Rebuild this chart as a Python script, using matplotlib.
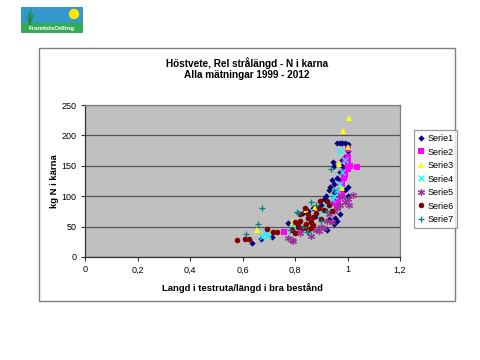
import numpy as np
import matplotlib
matplotlib.use("Agg")
import matplotlib.pyplot as plt
from matplotlib.patches import Rectangle, Circle

plt.rcParams['font.family'] = ['Liberation Sans', 'DejaVu Sans']

# data
s1_x = [0.636, 0.67, 0.712, 0.774, 0.83, 0.85, 0.87, 0.88, 0.90, 0.91, 0.918, 0.93, 0.93, 0.933,
        0.94, 0.95, 0.95, 0.96, 0.96, 0.97, 0.97, 0.98, 0.98, 0.99, 0.99, 1.0, 1.0, 0.96, 0.97,
        0.98, 0.99, 1.0, 0.945, 0.95, 0.93, 0.952, 0.96, 0.97, 0.98, 0.95, 0.99, 0.92, 1.0]
s1_y = [23, 30, 33, 56, 72, 75, 80, 68, 85, 95, 100, 88, 110, 115, 127, 120, 105, 130, 95, 140,
        125, 150, 160, 165, 145, 115, 175, 187, 187, 188, 188, 186, 156, 150, 62, 64, 60, 70, 128,
        55, 110, 45, 100]

s2_x = [0.758, 0.819, 0.964, 0.97, 0.985, 0.99, 1.0, 1.01, 1.036, 1.0, 1.0, 0.98, 0.99, 0.975,
        0.96, 0.99, 1.0, 0.95, 0.98]
s2_y = [41, 46, 94, 115, 130, 140, 145, 150, 148, 178, 165, 120, 135, 105, 85, 160, 155, 88, 100]

s3_x = [1.006, 0.983, 0.967, 0.655, 0.794, 0.876, 0.971, 1.0, 0.98, 0.84]
s3_y = [228, 207, 153, 44, 57, 82, 118, 181, 113, 78]

s4_x = [0.674, 0.697, 0.686, 0.79, 0.80, 0.86, 0.88, 0.90, 0.92, 0.94, 0.96, 0.97, 0.98, 0.97,
        0.99, 0.95]
s4_y = [33, 36, 40, 42, 50, 60, 70, 75, 85, 95, 110, 120, 140, 175, 160, 100]

s5_x = [0.774, 0.789, 0.793, 0.82, 0.88, 0.90, 0.92, 0.95, 0.96, 0.97, 0.99, 1.0, 1.02, 0.93,
        0.89, 0.86, 0.94, 0.98, 1.005, 0.91]
s5_y = [31, 28, 26, 40, 45, 50, 60, 75, 80, 85, 90, 95, 102, 70, 42, 35, 58, 98, 85, 48]

s6_x = [0.578, 0.61, 0.625, 0.693, 0.716, 0.731, 0.79, 0.80, 0.81, 0.82, 0.83, 0.838, 0.849,
        0.85, 0.86, 0.87, 0.88, 0.89, 0.895, 0.91, 0.92, 0.93, 0.85, 0.80, 0.82, 0.87, 0.90,
        0.94, 0.84, 0.86, 0.81]
s6_y = [28, 30, 30, 46, 41, 41, 44, 58, 55, 60, 48, 80, 64, 70, 58, 65, 72, 80, 92, 78, 92, 85,
        45, 40, 70, 52, 62, 75, 55, 48, 50]

s7_x = [0.674, 0.659, 0.613, 0.846, 0.807, 0.811, 0.849, 0.937, 0.88, 0.90, 0.92, 0.95, 0.83,
        0.86, 0.78]
s7_y = [80, 54, 38, 41, 74, 72, 41, 145, 85, 60, 75, 110, 50, 90, 45]

series = [
    ("Serie1", s1_x, s1_y, "D", "#000080", 3.2),
    ("Serie2", s2_x, s2_y, "s", "#FF00FF", 4.3),
    ("Serie3", s3_x, s3_y, "^", "#FFFF00", 4.2),
    ("Serie4", s4_x, s4_y, "x", "#00FFFF", 4.0),
    ("Serie5", s5_x, s5_y, (6, 2, 0), "#993399", 5.0),
    ("Serie6", s6_x, s6_y, "o", "#800000", 4.0),
    ("Serie7", s7_x, s7_y, "+", "#008080", 5.0),
]

xticks = [0, 0.2, 0.4, 0.6, 0.8, 1, 1.2]
xtick_labels = ["0", "0,2", "0,4", "0,6", "0,8", "1", "1,2"]
yticks = [0, 50, 100, 150, 200, 250]

fig = plt.figure(figsize=(4.8, 3.6), dpi=100)

# chart area border
fig.patches.append(Rectangle((39 / 480, 59 / 360), 416 / 480, 253 / 360, transform=fig.transFigure,
                             fill=False, edgecolor="#808080", lw=1.0))

ax = fig.add_axes([85 / 480, 103 / 360, 315 / 480, 152 / 360])
ax.set_facecolor("#C0C0C0")
for name, xs, ys, mk, col, ms in series:
    if mk in ("x", "+") or isinstance(mk, tuple):
        ax.plot(xs, ys, linestyle="none", marker=mk, color=col, markersize=ms,
                markeredgewidth=0.9, label=name)
    else:
        ax.plot(xs, ys, linestyle="none", marker=mk, color=col, markersize=ms,
                markeredgewidth=0, label=name)

ax.set_xlim(0, 1.2)
ax.set_ylim(0, 250)
ax.set_xticks(xticks)
ax.set_xticklabels(xtick_labels)
ax.set_yticks(yticks)
ax.yaxis.grid(True, color="#555555", lw=0.9)
ax.set_axisbelow(True)
for s in ax.spines.values():
    s.set_color("#808080")
    s.set_linewidth(0.9)
ax.spines["left"].set_color("#333333")
ax.spines["bottom"].set_color("#333333")
ax.tick_params(direction="out", length=3, width=0.8, color="#333333", labelsize=6.5, pad=3)

ax.set_xlabel("Langd i testruta/längd i bra bestånd", fontsize=6.8, fontweight="bold", labelpad=6)
ax.set_ylabel("kg N i kärna", fontsize=6.8, fontweight="bold", labelpad=2)

fig.text(247 / 480, 1 - 63 / 360, "Höstvete, Rel strålängd - N i karna", ha="center", va="center",
         fontsize=7.2, fontweight="bold")
fig.text(247 / 480, 1 - 75 / 360, "Alla mätningar 1999 - 2012", ha="center", va="center",
         fontsize=7.2, fontweight="bold")

leg = fig.legend(loc="upper left", bbox_to_anchor=(414 / 480, 1 - 130 / 360), fontsize=6.5,
                 frameon=True, fancybox=False, borderpad=0.45, labelspacing=0.5,
                 handlelength=0.6, handletextpad=0.4, borderaxespad=0)
leg.get_frame().set_edgecolor("#808080")
leg.get_frame().set_linewidth(0.9)

# logo
lax = fig.add_axes([21 / 480, 1 - 33 / 360, 62 / 480, 26 / 360])
lax.set_xlim(0, 62)
lax.set_ylim(0, 26)
lax.axis("off")
lax.add_patch(Rectangle((0, 0), 62, 26, color="#3399CC"))
lax.add_patch(Rectangle((0, 0), 62, 10, color="#33AA55"))
lax.add_patch(Circle((53, 19), 4.5, color="#FFE600"))
for gx, gy in [(8, 20), (10, 23), (12, 18), (6, 16)]:
    lax.plot([9, gx], [9, gy], color="#228833", lw=0.8)
lax.text(31, 4.5, "FramtidsOdling", ha="center", va="center", color="white", fontsize=4.5,
         fontweight="bold")

fig.savefig("out.png", dpi=100)
